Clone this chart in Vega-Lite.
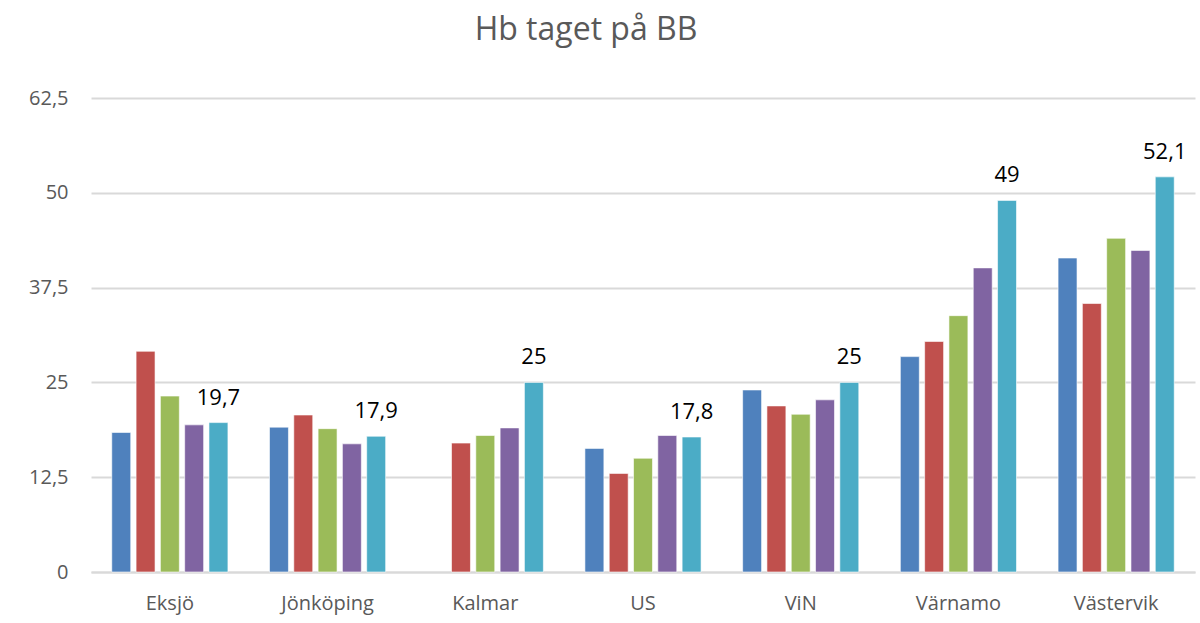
{
  "$schema": "https://vega.github.io/schema/vega-lite/v6.json",
  "width": 1104,
  "height": 474,
  "autosize": {"type": "none"},
  "padding": {"left": 91, "top": 98, "right": 5, "bottom": 51},
  "background": "white",
  "title": {
    "text": "Hb taget på BB",
    "font": "Open Sans",
    "fontSize": 32,
    "fontWeight": "normal",
    "color": "#595959",
    "anchor": "middle",
    "baseline": "alphabetic",
    "offset": 16,
    "dx": -57
  },
  "config": {
    "locale": {"number": {"decimal": ",", "thousands": " ", "grouping": [3], "currency": ["", " kr"]}},
    "view": {"stroke": null},
    "font": "Open Sans"
  },
  "data": {
    "values": [
      {"sjukhus": "Eksjö", "serie": "Serie 1", "varde": 18.4},
      {"sjukhus": "Eksjö", "serie": "Serie 2", "varde": 29.1},
      {"sjukhus": "Eksjö", "serie": "Serie 3", "varde": 23.2},
      {"sjukhus": "Eksjö", "serie": "Serie 4", "varde": 19.4},
      {"sjukhus": "Eksjö", "serie": "Serie 5", "varde": 19.7},
      {"sjukhus": "Jönköping", "serie": "Serie 1", "varde": 19.1},
      {"sjukhus": "Jönköping", "serie": "Serie 2", "varde": 20.7},
      {"sjukhus": "Jönköping", "serie": "Serie 3", "varde": 18.9},
      {"sjukhus": "Jönköping", "serie": "Serie 4", "varde": 16.9},
      {"sjukhus": "Jönköping", "serie": "Serie 5", "varde": 17.9},
      {"sjukhus": "Kalmar", "serie": "Serie 2", "varde": 17.0},
      {"sjukhus": "Kalmar", "serie": "Serie 3", "varde": 18.0},
      {"sjukhus": "Kalmar", "serie": "Serie 4", "varde": 19.0},
      {"sjukhus": "Kalmar", "serie": "Serie 5", "varde": 25},
      {"sjukhus": "US", "serie": "Serie 1", "varde": 16.3},
      {"sjukhus": "US", "serie": "Serie 2", "varde": 13.0},
      {"sjukhus": "US", "serie": "Serie 3", "varde": 15.0},
      {"sjukhus": "US", "serie": "Serie 4", "varde": 18.0},
      {"sjukhus": "US", "serie": "Serie 5", "varde": 17.8},
      {"sjukhus": "ViN", "serie": "Serie 1", "varde": 24.0},
      {"sjukhus": "ViN", "serie": "Serie 2", "varde": 21.9},
      {"sjukhus": "ViN", "serie": "Serie 3", "varde": 20.8},
      {"sjukhus": "ViN", "serie": "Serie 4", "varde": 22.7},
      {"sjukhus": "ViN", "serie": "Serie 5", "varde": 25},
      {"sjukhus": "Värnamo", "serie": "Serie 1", "varde": 28.4},
      {"sjukhus": "Värnamo", "serie": "Serie 2", "varde": 30.4},
      {"sjukhus": "Värnamo", "serie": "Serie 3", "varde": 33.8},
      {"sjukhus": "Värnamo", "serie": "Serie 4", "varde": 40.1},
      {"sjukhus": "Värnamo", "serie": "Serie 5", "varde": 49},
      {"sjukhus": "Västervik", "serie": "Serie 1", "varde": 41.4},
      {"sjukhus": "Västervik", "serie": "Serie 2", "varde": 35.4},
      {"sjukhus": "Västervik", "serie": "Serie 3", "varde": 44.0},
      {"sjukhus": "Västervik", "serie": "Serie 4", "varde": 42.4},
      {"sjukhus": "Västervik", "serie": "Serie 5", "varde": 52.1}
    ]
  },
  "encoding": {
    "x": {
      "field": "sjukhus",
      "type": "nominal",
      "sort": ["Eksjö", "Jönköping", "Kalmar", "US", "ViN", "Värnamo", "Västervik"],
      "scale": {"paddingInner": 0, "paddingOuter": 0},
      "axis": {
        "title": null,
        "labelAngle": 0,
        "labelFont": "Open Sans",
        "labelFontSize": 20,
        "labelColor": "#595959",
        "labelPadding": 21,
        "ticks": false,
        "domain": true,
        "domainColor": "#d9d9d9",
        "domainWidth": 2
      }
    },
    "xOffset": {
      "field": "serie",
      "type": "nominal",
      "scale": {
        "domain": ["Serie 1", "Serie 2", "Serie 3", "Serie 4", "Serie 5"],
        "paddingInner": 0.22,
        "paddingOuter": 0.855
      }
    },
    "y": {
      "field": "varde",
      "type": "quantitative",
      "scale": {"domain": [0, 62.5], "nice": false},
      "axis": {
        "title": null,
        "values": [0, 12.5, 25, 37.5, 50, 62.5],
        "format": ".1~f",
        "labelFont": "Open Sans",
        "labelFontSize": 20,
        "labelColor": "#595959",
        "labelPadding": 23,
        "ticks": false,
        "domain": false,
        "grid": true,
        "gridColor": "#d9d9d9",
        "gridWidth": 2
      }
    }
  },
  "layer": [
    {
      "mark": {"type": "bar", "stroke": "white", "strokeWidth": 0.6},
      "encoding": {
        "color": {
          "field": "serie",
          "type": "nominal",
          "scale": {
            "domain": ["Serie 1", "Serie 2", "Serie 3", "Serie 4", "Serie 5"],
            "range": ["#4f81bd", "#c0504d", "#9bbb59", "#8064a2", "#4bacc6"]
          },
          "legend": null
        }
      }
    },
    {
      "transform": [{"filter": "datum.serie === 'Serie 5'"}],
      "mark": {
        "type": "text",
        "font": "Open Sans",
        "fontSize": 22,
        "color": "#000000",
        "baseline": "alphabetic",
        "dy": -18
      },
      "encoding": {
        "text": {"field": "varde", "type": "quantitative", "format": ".1~f"}
      }
    }
  ]
}
